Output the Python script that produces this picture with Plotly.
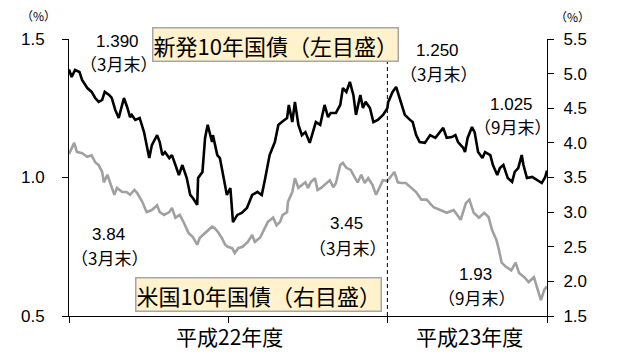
import plotly.graph_objects as go

# ---- data ----
jgb_dates = [
    "2010-03-31", "2010-04-03", "2010-04-07", "2010-04-12", "2010-04-15", "2010-04-21", "2010-04-26", "2010-04-30",
    "2010-05-04", "2010-05-08", "2010-05-11", "2010-05-16", "2010-05-19", "2010-05-23", "2010-05-27", "2010-05-31",
    "2010-06-02", "2010-06-06", "2010-06-09", "2010-06-11", "2010-06-15", "2010-06-20", "2010-06-25", "2010-07-01",
    "2010-07-04", "2010-07-10", "2010-07-13", "2010-07-16", "2010-07-19", "2010-07-24", "2010-07-27", "2010-07-31",
    "2010-08-04", "2010-08-08", "2010-08-13", "2010-08-17", "2010-08-20", "2010-08-25", "2010-08-26", "2010-08-31",
    "2010-09-03", "2010-09-06", "2010-09-11", "2010-09-12", "2010-09-17", "2010-09-20", "2010-09-24", "2010-09-28",
    "2010-10-02", "2010-10-05", "2010-10-10", "2010-10-15", "2010-10-21", "2010-10-27", "2010-11-02", "2010-11-07",
    "2010-11-11", "2010-11-16", "2010-11-22", "2010-11-26", "2010-11-30", "2010-12-06", "2010-12-08", "2010-12-12",
    "2010-12-15", "2010-12-19", "2010-12-23", "2010-12-27", "2011-01-01", "2011-01-05", "2011-01-08", "2011-01-13",
    "2011-01-18", "2011-01-22", "2011-01-25", "2011-01-31", "2011-02-05", "2011-02-08", "2011-02-12", "2011-02-16",
    "2011-02-20", "2011-02-23", "2011-02-28", "2011-03-03", "2011-03-06", "2011-03-11", "2011-03-15", "2011-03-20",
    "2011-03-26", "2011-03-31", "2011-04-01", "2011-04-06", "2011-04-10", "2011-04-14", "2011-04-20", "2011-04-26",
    "2011-04-29", "2011-05-03", "2011-05-07", "2011-05-13", "2011-05-19", "2011-05-25", "2011-05-30", "2011-06-03",
    "2011-06-07", "2011-06-13", "2011-06-17", "2011-06-20", "2011-06-26", "2011-06-28", "2011-07-01", "2011-07-06",
    "2011-07-09", "2011-07-13", "2011-07-18", "2011-07-21", "2011-07-27", "2011-07-30", "2011-08-04", "2011-08-07",
    "2011-08-11", "2011-08-16", "2011-08-21", "2011-08-24", "2011-08-28", "2011-09-01", "2011-09-03", "2011-09-07",
    "2011-09-13", "2011-09-19", "2011-09-24", "2011-09-28", "2011-09-30",
]
jgb_values = [
    1.390, 1.363, 1.388, 1.381, 1.352, 1.323, 1.309, 1.287,
    1.273, 1.280, 1.309, 1.298, 1.287, 1.244, 1.215, 1.262,
    1.287, 1.251, 1.218, 1.226, 1.208, 1.215, 1.164, 1.070,
    1.117, 1.153, 1.128, 1.081, 1.092, 1.070, 1.081, 1.045,
    1.009, 1.045, 0.998, 0.937, 0.926, 0.901, 0.998, 1.020,
    1.143, 1.190, 1.128, 1.153, 1.081, 1.070, 1.009, 0.937,
    0.962, 0.839, 0.865, 0.872, 0.890, 0.937, 0.948, 0.937,
    0.998, 1.081, 1.128, 1.190, 1.200, 1.215, 1.262, 1.200,
    1.273, 1.190, 1.153, 1.164, 1.125, 1.164, 1.200, 1.190,
    1.262, 1.218, 1.233, 1.233, 1.262, 1.323, 1.309, 1.345,
    1.298, 1.226, 1.298, 1.251, 1.273, 1.251, 1.200, 1.208,
    1.226, 1.250, 1.273, 1.309, 1.327, 1.287, 1.226, 1.208,
    1.200, 1.153, 1.128, 1.125, 1.153, 1.143, 1.164, 1.179,
    1.143, 1.146, 1.153, 1.128, 1.107, 1.092, 1.143, 1.182,
    1.164, 1.092, 1.070, 1.092, 1.081, 1.045, 1.009, 1.034,
    1.045, 0.998, 0.984, 1.020, 1.034, 1.081, 1.045, 0.998,
    1.002, 0.991, 0.980, 1.002, 1.025,
]

ust_dates = [
    "2010-03-31", "2010-04-06", "2010-04-09", "2010-04-15", "2010-04-21", "2010-04-26", "2010-04-30", "2010-05-04",
    "2010-05-08", "2010-05-10", "2010-05-14", "2010-05-17", "2010-05-22", "2010-05-25", "2010-05-31", "2010-06-05",
    "2010-06-09", "2010-06-14", "2010-06-17", "2010-06-23", "2010-06-28", "2010-07-04", "2010-07-10", "2010-07-13",
    "2010-07-18", "2010-07-24", "2010-07-27", "2010-07-31", "2010-08-05", "2010-08-10", "2010-08-15", "2010-08-20",
    "2010-08-25", "2010-08-28", "2010-09-03", "2010-09-06", "2010-09-11", "2010-09-14", "2010-09-18", "2010-09-22",
    "2010-09-26", "2010-09-29", "2010-10-04", "2010-10-07", "2010-10-11", "2010-10-16", "2010-10-22", "2010-10-27",
    "2010-10-30", "2010-11-05", "2010-11-11", "2010-11-14", "2010-11-20", "2010-11-24", "2010-11-28", "2010-12-01",
    "2010-12-06", "2010-12-07", "2010-12-12", "2010-12-15", "2010-12-19", "2010-12-23", "2010-12-27", "2010-12-30",
    "2011-01-02", "2011-01-07", "2011-01-10", "2011-01-14", "2011-01-20", "2011-01-24", "2011-01-28", "2011-01-31",
    "2011-02-05", "2011-02-08", "2011-02-12", "2011-02-17", "2011-02-22", "2011-02-25", "2011-03-01", "2011-03-05",
    "2011-03-09", "2011-03-14", "2011-03-18", "2011-03-22", "2011-03-26", "2011-03-31", "2011-04-06", "2011-04-08",
    "2011-04-12", "2011-04-16", "2011-04-21", "2011-04-27", "2011-05-03", "2011-05-09", "2011-05-15", "2011-05-23",
    "2011-05-31", "2011-06-07", "2011-06-15", "2011-06-23", "2011-06-29", "2011-07-03", "2011-07-08", "2011-07-14",
    "2011-07-20", "2011-07-25", "2011-07-29", "2011-08-03", "2011-08-06", "2011-08-09", "2011-08-14", "2011-08-20",
    "2011-08-25", "2011-08-29", "2011-09-04", "2011-09-09", "2011-09-15", "2011-09-19", "2011-09-23", "2011-09-27",
    "2011-09-30",
]
ust_values = [
    3.84, 4.00, 3.87, 3.85, 3.80, 3.82, 3.72, 3.68,
    3.58, 3.43, 3.54, 3.42, 3.25, 3.35, 3.29, 3.29,
    3.25, 3.32, 3.28, 3.15, 3.00, 3.03, 3.10, 3.00,
    2.96, 3.00, 3.06, 2.92, 2.96, 2.84, 2.70, 2.64,
    2.53, 2.63, 2.70, 2.74, 2.79, 2.77, 2.71, 2.63,
    2.53, 2.50, 2.48, 2.41, 2.48, 2.50, 2.57, 2.67,
    2.57, 2.63, 2.77, 2.86, 2.92, 2.81, 2.86, 2.96,
    3.00, 3.15, 3.29, 3.49, 3.35, 3.39, 3.43, 3.35,
    3.43, 3.49, 3.32, 3.35, 3.42, 3.46, 3.36, 3.42,
    3.68, 3.71, 3.64, 3.61, 3.49, 3.43, 3.54, 3.42,
    3.49, 3.39, 3.25, 3.35, 3.46, 3.45, 3.54, 3.58,
    3.43, 3.42, 3.42, 3.35, 3.29, 3.18, 3.18, 3.07,
    3.03, 2.99, 3.03, 2.89, 3.13, 3.18, 2.99, 2.92,
    2.99, 2.93, 2.74, 2.60, 2.45, 2.27, 2.21, 2.16,
    2.27, 2.12, 2.06, 1.99, 2.06, 1.90, 1.73, 1.88,
    1.93,
]

x_start, x_end = "2010-03-31", "2011-09-30"
x_ticks = ["2010-03-31", "2010-09-30", "2011-03-31", "2011-09-30"]
fy_boundary = "2011-03-31"
left_ticks = [0.5, 1.0, 1.5]
right_ticks = [1.5, 2.0, 2.5, 3.0, 3.5, 4.0, 4.5, 5.0, 5.5]

jgb_name = "新発10年国債（左目盛）"
ust_name = "米国10年国債（右目盛）"
period_labels = ["平成22年度", "平成23年度"]

# point labels: (value text, period text)
point_labels = [
    ("1.390", "（3月末）"),
    ("1.250", "（3月末）"),
    ("1.025", "（9月末）"),
    ("3.84", "（3月末）"),
    ("3.45", "（3月末）"),
    ("1.93", "（9月末）"),
]

# ---- layout geometry (pixels) ----
W, H = 634, 354
L, R, T, B = 69, 547, 39, 316
label_pos = [(117, 41), (437, 50), (511, 104), (108, 234), (346, 224), (475, 274)]


def px(x):
    return (x - L) / (R - L)


def py(y):
    return (B - y) / (B - T)


NUM_FONT = "Liberation Sans, Arial, Noto Sans CJK JP, sans-serif"
JP_FONT = "Noto Sans CJK JP, sans-serif"

fig = go.Figure()
fig.add_trace(go.Scatter(x=ust_dates, y=ust_values, yaxis="y2", mode="lines",
                         line=dict(color="#A0A0A0", width=2.6), name=ust_name,
                         showlegend=False))
fig.add_trace(go.Scatter(x=jgb_dates, y=jgb_values, yaxis="y", mode="lines",
                         line=dict(color="#000000", width=2.6), name=jgb_name,
                         showlegend=False))

fig.add_shape(type="line", xref="x", yref="paper", x0=fy_boundary, x1=fy_boundary,
              y0=0, y1=1, line=dict(color="#000000", width=1, dash="4px,3px"))


def ann(text, x, y, size=16, font=NUM_FONT, **kw):
    fig.add_annotation(text=text, xref="paper", yref="paper", x=px(x), y=py(y),
                       xanchor="center", yanchor="middle", showarrow=False,
                       font=dict(family=font, size=size, color="#000000"), **kw)


# value labels
for (val, per), (cx, cy) in zip(point_labels, label_pos):
    ann(val, cx, cy, size=17)
    ann(per, cx + 1, cy + 23, size=17, font=JP_FONT)

# series boxes
ann(jgb_name, 275.5, 44, size=22, font=JP_FONT, bgcolor="#FFF2CC",
    bordercolor="#A6A6A6", borderwidth=1.5, borderpad=0)
ann(ust_name, 258, 294, size=22, font=JP_FONT, bgcolor="#FFF2CC",
    bordercolor="#A6A6A6", borderwidth=1.5, borderpad=0)

# period labels
ann(period_labels[0], 229, 336, size=21, font=JP_FONT)
ann(period_labels[1], 469, 336, size=21, font=JP_FONT)

# units
ann("（%）", 38, 16, size=12, font=JP_FONT)
ann("（%）", 572, 17, size=12, font=JP_FONT)

axis_common = dict(showgrid=False, zeroline=False, showline=True, linecolor="#000000",
                   linewidth=1, ticks="outside", ticklen=6, tickcolor="#000000", tickwidth=1)

fig.update_layout(
    width=W, height=H,
    margin=dict(l=L, r=W - R, t=T, b=H - B, pad=0),
    paper_bgcolor="#FFFFFF", plot_bgcolor="#FFFFFF",
    showlegend=False,
    xaxis=dict(type="date", range=[x_start, x_end], tickvals=x_ticks,
               showticklabels=False, **axis_common),
    yaxis=dict(range=[0.5, 1.5], tickvals=left_ticks, tickformat=".1f",
               tickfont=dict(family=NUM_FONT, size=17, color="#000000"),
               ticklabelstandoff=14, **axis_common),
    yaxis2=dict(range=[1.5, 5.5], tickvals=right_ticks, tickformat=".1f", overlaying="y",
                side="right", tickfont=dict(family=NUM_FONT, size=17, color="#000000"),
                ticklabelstandoff=6, **axis_common),
)

fig.write_html("out.html")
